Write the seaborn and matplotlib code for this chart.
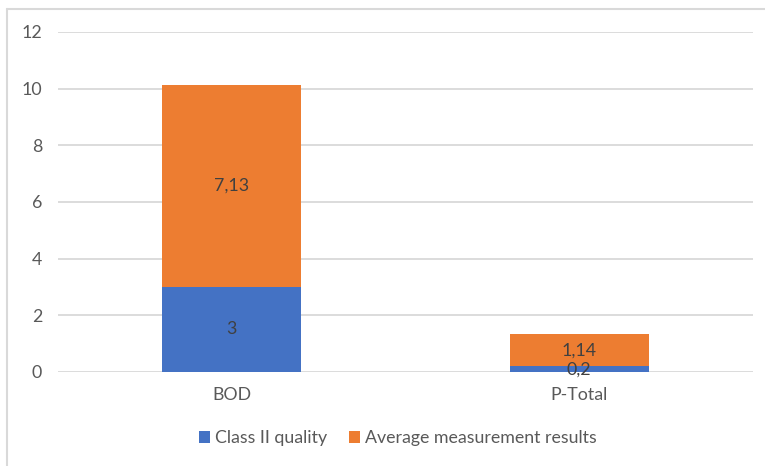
import matplotlib
matplotlib.use("Agg")
import matplotlib.pyplot as plt
from matplotlib.patches import Patch
from matplotlib.lines import Line2D
import seaborn as sns
import pandas as pd

categories = ["BOD", "P-Total"]
class_ii = [3, 0.2]
average_results = [7.13, 1.14]
y_ticks = [0, 2, 4, 6, 8, 10, 12]
series_names = ["Class II quality", "Average measurement results"]

BLUE = "#4472C4"
ORANGE = "#ED7D31"
GRID = "#D9D9D9"
TICK = "#595959"
LABEL = "#404040"
FS = 12.8

sns.set_theme(style="white")
plt.rcParams["font.family"] = ["Lato", "DejaVu Sans"]

df = pd.DataFrame({
    "category": categories,
    "class_ii": class_ii,
    "average": average_results,
})
df["total"] = df["class_ii"] + df["average"]

fig = plt.figure(figsize=(7.65, 4.66), dpi=100)
ax = fig.add_axes([58 / 765, 1 - 372 / 466, (753 - 58) / 765, (372 - 32) / 466])

# stacked bars: full height in orange, lower segment in blue on top of it
sns.barplot(data=df, x="category", y="total", color=ORANGE, width=0.4,
            saturation=1, ax=ax, zorder=2, edgecolor="none")
sns.barplot(data=df, x="category", y="class_ii", color=BLUE, width=0.4,
            saturation=1, ax=ax, zorder=3, edgecolor="none")

ax.set_ylim(0, 12)
ax.set_xlim(-0.5, 1.5)
ax.set_yticks(y_ticks)
ax.set_xlabel("")
ax.set_ylabel("")
for s in ax.spines.values():
    s.set_visible(False)
ax.yaxis.grid(True, color=GRID, linewidth=1.3, zorder=0)
ax.set_axisbelow(True)
ax.tick_params(axis="both", length=0, colors=TICK, labelsize=FS)
ax.tick_params(axis="y", pad=11.5)
ax.tick_params(axis="x", pad=11)


def fmt(v):
    return f"{v:g}".replace(".", ",")


for i, (b, a) in enumerate(zip(class_ii, average_results)):
    ax.text(i, b / 2, fmt(b), ha="center", va="center", color=LABEL,
            fontsize=FS, zorder=5)
    ax.text(i, b + a / 2, fmt(a), ha="center", va="center", color=LABEL,
            fontsize=FS, zorder=5)

handles = [Patch(facecolor=BLUE, edgecolor="none"),
           Patch(facecolor=ORANGE, edgecolor="none")]
leg = fig.legend(handles, series_names, loc="center", ncol=2,
                 bbox_to_anchor=(398 / 765, 1 - 438 / 466), frameon=False,
                 fontsize=FS, handlelength=0.62, handleheight=0.62,
                 handletextpad=0.3, columnspacing=1.2)
for t in leg.get_texts():
    t.set_color(TICK)

# chart frame (top and left edges)
fig.add_artist(Line2D([7 / 765, 7 / 765], [0, 1 - 9 / 466], transform=fig.transFigure,
                      color=GRID, linewidth=1.5))
fig.add_artist(Line2D([7 / 765, 1], [1 - 9 / 466, 1 - 9 / 466], transform=fig.transFigure,
                      color=GRID, linewidth=1.5))

fig.savefig("out.png", dpi=100)
